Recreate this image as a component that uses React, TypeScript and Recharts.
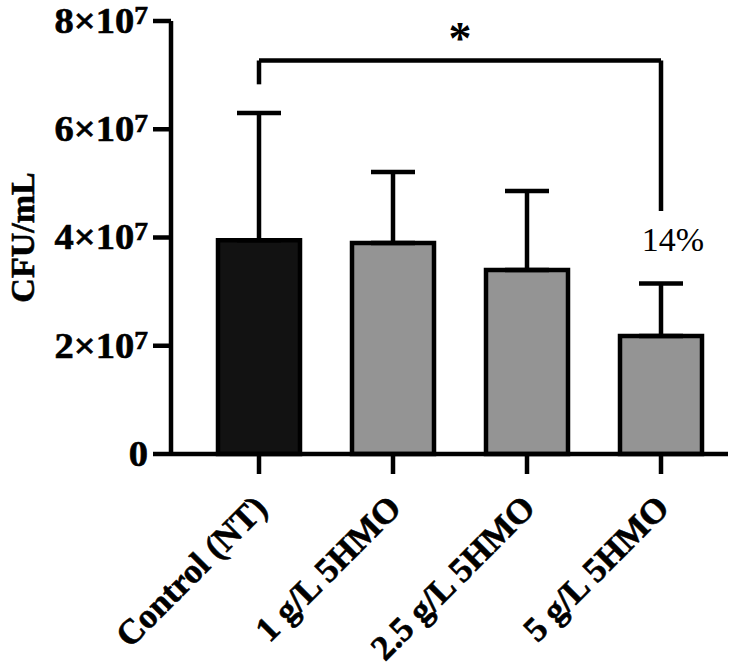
import React from 'react';
import {
  BarChart,
  Bar,
  XAxis,
  YAxis,
  Cell,
  ErrorBar,
  ReferenceLine,
  ReferenceDot,
} from 'recharts';

// Treatment groups and measured counts (CFU/mL), mean with upper SD
const groups = ['Control (NT)', '1 g/L 5HMO', '2.5 g/L 5HMO', '5 g/L 5HMO'];
const means = [3.95e7, 3.9e7, 3.4e7, 2.18e7];
const sds = [2.35e7, 1.31e7, 1.46e7, 0.97e7];
const fills = ['#121212', '#949494', '#949494', '#949494'];
const yTicks = [0, 2e7, 4e7, 6e7, 8e7];

// Significance bracket between control and the highest dose
const bracketTop = 7.27e7;
const bracketLeftFoot = 6.83e7;
const bracketRightFoot = 4.49e7;
const reductionLabel = '14%';
const reductionY = 3.98e7;

const data = groups.map((g, i) => ({
  group: g,
  mean: means[i],
  err: [0, sds[i]],
}));

const FONT = '"Liberation Serif", "Times New Roman", serif';
// heavy bold text: a hairline outline thickens the glyphs a little
const heavy = { fontFamily: FONT, fontWeight: 'bold', fill: '#000', stroke: '#000', strokeWidth: 0.6 } as const;

const YTick = (props: any) => {
  const { x, y, payload } = props;
  const v = payload.value as number;
  const ax = x - 3;
  const ay = y + 12;
  const stretch = `translate(${ax}, ${ay}) scale(1.1, 1) translate(${-ax}, ${-ay})`;
  return (
    <text x={ax} y={ay} textAnchor="end" fontSize={35} transform={stretch} {...heavy}>
      {v === 0 ? (
        '0'
      ) : (
        <>
          {v / 1e7}×10
          <tspan dy={-9} fontSize={25}>7</tspan>
        </>
      )}
    </text>
  );
};

const XTick = (props: any) => {
  const { x, y, payload } = props;
  const ax = x + 10;
  const ay = y + 34;
  return (
    <text
      x={ax}
      y={ay}
      textAnchor="end"
      fontSize={35}
      transform={`rotate(-45, ${ax}, ${ay})`}
      {...heavy}
    >
      {payload.value}
    </text>
  );
};

const YLabel = (props: any) => {
  const { viewBox } = props;
  const cx = 22;
  const cy = viewBox.y + viewBox.height / 2;
  return (
    <text
      x={cx}
      y={cy}
      textAnchor="middle"
      dominantBaseline="central"
      fontSize={34}
      transform={`rotate(-90, ${cx}, ${cy})`}
      {...heavy}
    >
      CFU/mL
    </text>
  );
};

export default function App() {
  return (
    <div style={{ position: 'absolute', left: 0, top: 0, width: 755, height: 668, background: '#fff' }}>
      <BarChart
        width={755}
        height={668}
        data={data}
        margin={{ top: 21, right: 27, left: 0, bottom: 0 }}
        barSize={82}
      >
        <XAxis
          dataKey="group"
          height={214}
          padding={{ left: 21, right: 0 }}
          axisLine={{ stroke: '#000', strokeWidth: 4.5 }}
          tickLine={{ stroke: '#000', strokeWidth: 4.5 }}
          tickSize={20}
          tick={<XTick />}
          interval={0}
        />
        <YAxis
          width={171}
          domain={[0, 8e7]}
          ticks={yTicks}
          axisLine={{ stroke: '#000', strokeWidth: 4.5 }}
          tickLine={{ stroke: '#000', strokeWidth: 4.5 }}
          tickSize={18}
          tick={<YTick />}
          label={<YLabel />}
        />
        <Bar dataKey="mean" stroke="#000" strokeWidth={4.5} isAnimationActive={false}>
          {data.map((d, i) => (
            <Cell key={d.group} fill={fills[i]} />
          ))}
          <ErrorBar dataKey="err" direction="y" width={22} stroke="#000" strokeWidth={4.5} isAnimationActive={false} />
        </Bar>
        <ReferenceLine
          segment={[
            { x: groups[0], y: bracketLeftFoot },
            { x: groups[0], y: bracketTop },
          ]}
          stroke="#000"
          strokeWidth={4.5}
          ifOverflow="visible"
        />
        <ReferenceLine
          segment={[
            { x: groups[0], y: bracketTop },
            { x: groups[3], y: bracketTop },
          ]}
          stroke="#000"
          strokeWidth={4.5}
          ifOverflow="visible"
          label={{
            value: '*',
            position: 'top',
            offset: 7,
            fontFamily: FONT,
            fontWeight: 'bold',
            fontSize: 46,
            fill: '#000',
          }}
        />
        <ReferenceLine
          segment={[
            { x: groups[3], y: bracketTop },
            { x: groups[3], y: bracketRightFoot },
          ]}
          stroke="#000"
          strokeWidth={4.5}
          ifOverflow="visible"
        />
        <ReferenceDot
          x={groups[3]}
          y={reductionY}
          r={0}
          fill="none"
          stroke="none"
          ifOverflow="visible"
          label={(p: any) => {
            const vb = p.viewBox || {};
            const cx = (vb.x ?? 0) + (vb.width ?? 0) / 2 + 12;
            const cy = (vb.y ?? 0) + (vb.height ?? 0) / 2;
            return (
              <text x={cx} y={cy + 12} textAnchor="middle" fontFamily={FONT} fontSize={34} fill="#000">
                {reductionLabel}
              </text>
            );
          }}
        />
      </BarChart>
    </div>
  );
}
